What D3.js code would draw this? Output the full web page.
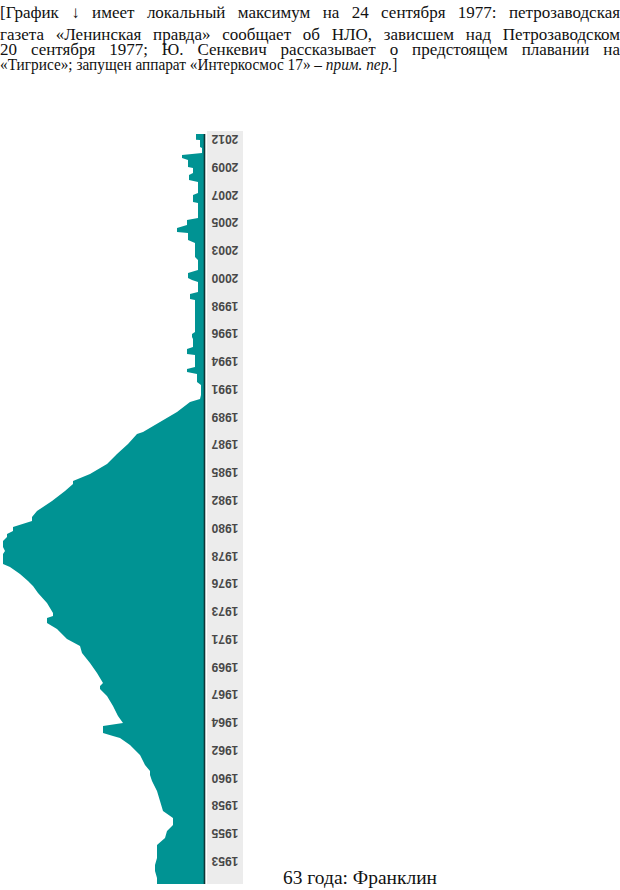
<!DOCTYPE html>
<html>
<head>
<meta charset="utf-8">
<script src="https://cdn.jsdelivr.net/npm/d3@7"></script>
<style>
  body { margin: 0; background: #fff; }
  #wrap { position: relative; width: 620px; height: 890px; overflow: hidden; }
  .ln {
    position: absolute; left: 0; width: 620px;
    font-family: "Liberation Serif", "DejaVu Serif", serif;
    font-size: 17px; line-height: 15px; color: #111;
    text-align: justify; text-align-last: justify;
  }
  .ln.last {
    text-align: left; text-align-last: left;
    transform: scaleX(0.9); transform-origin: 0 0;
  }
  svg { position: absolute; left: 0; top: 0; }
</style>
</head>
<body>
<div id="wrap"></div>
<script>
// header lines above the chart
const noteLines = [
  '[График ↓ имеет локальный максимум на 24 сентября 1977: петрозаводская',
  'газета «Ленинская правда» сообщает об НЛО, зависшем над Петрозаводском',
  '20 сентября 1977; Ю. Сенкевич рассказывает о предстоящем плавании на',
  '«Тигрисе»; запущен аппарат «Интеркосмос 17» – <i>прим. пер.</i>]'
]
const footText = '63 года: Франклин'

// series (year, relative value 0-100)
const years = [
  1951.12, 1951.61, 1952.18, 1952.67, 1953.25, 1953.82, 1954.31, 1954.88, 1955.45, 1955.94,
  1956.51, 1957.09, 1957.90, 1958.72, 1959.54, 1960.03, 1960.35, 1960.85, 1961.66, 1962.48,
  1963.05, 1963.21, 1963.46, 1964.03, 1964.28, 1964.85, 1965.67, 1966.48, 1967.06, 1967.30,
  1967.55, 1968.36, 1969.18, 1970.00, 1970.57, 1971.14, 1971.96, 1972.45, 1972.86, 1973.02,
  1973.27, 1974.08, 1974.90, 1975.47, 1975.88, 1976.45, 1977.03, 1977.27, 1978.09, 1978.33,
  1978.66, 1979.15, 1979.48, 1979.72, 1979.97, 1980.29, 1980.78, 1981.11, 1981.60, 1982.42,
  1983.24, 1983.81, 1984.05, 1984.63, 1985.44, 1986.26, 1987.08, 1987.89, 1988.06, 1988.87,
  1989.69, 1990.51, 1990.75, 1991.08, 1991.90, 1992.14, 1992.80, 1992.96, 1993.21, 1993.37,
  1994.35, 1994.43, 1994.84, 1995.00, 1995.66, 1995.82, 1996.07, 1996.23, 1998.84, 1998.93,
  1999.33, 1999.50, 2000.31, 2000.48, 2000.64, 2001.05, 2001.30, 2002.11, 2002.36, 2003.50,
  2003.75, 2004.32, 2004.40, 2004.73, 2004.97, 2005.38, 2005.54, 2006.77, 2006.85, 2007.42,
  2007.59, 2008.49, 2008.65, 2009.06, 2009.22, 2009.63, 2009.71, 2010.28, 2010.45, 2010.69,
  2010.86, 2011.26, 2011.35, 2011.92, 2011.93, 2012.41
]
const values = [
  23.5, 23.5, 24.5, 24.5, 23.5, 23.5, 23.5, 19.5, 18.5, 15.5,
  15.5, 20.5, 22, 23.5, 26, 27, 27, 29.5, 32, 37,
  42, 45.5, 50.5, 50.5, 40.5, 43, 45.5, 48.5, 52, 52,
  50.5, 53.5, 57, 61, 62, 68.5, 73.5, 78.5, 78.5, 75.5,
  75.5, 78.5, 83, 85.5, 88, 92, 97, 100.5, 100.5, 99.5,
  100.5, 100.5, 98.5, 98.5, 95.5, 95.5, 86, 86, 83.5, 76,
  69.5, 65.5, 65.5, 57, 48.5, 43.5, 38, 33.5, 30.5, 22,
  13.5, 7, 2, 1.5, 1.5, 3.5, 3.5, 8.5, 8.5, 4.5,
  4.5, 8.5, 8.5, 5.5, 5.5, 6, 6, 4.5, 4.5, 7,
  7, 3, 3, 6, 8, 8, 3, 3, 4.5, 4.5,
  8, 8, 13.5, 13.5, 8.5, 8.5, 3, 3, 5.5, 5.5,
  3, 3, 7.5, 7.5, 5.5, 5.5, 8, 8, 11, 11,
  1, 1, 2, 2, 4, 4
]

// tick labels (evenly spaced along the axis, rounded years)
const tickLabels = [
  1953, 1955, 1958, 1960, 1962, 1964, 1967, 1969, 1971, 1973, 1976, 1978, 1980, 1982,
  1985, 1987, 1989, 1991, 1994, 1996, 1998, 2000, 2003, 2005, 2007, 2009, 2012
]

const wrap = d3.select('#wrap')

const tops = [5, 27, 42, 57]
noteLines.forEach((t, i) => {
  wrap.append('div')
    .attr('class', 'ln' + (i === noteLines.length - 1 ? ' last' : ''))
    .style('top', tops[i] + 'px')
    .html(t)
})

const svg = wrap.append('svg')
  .attr('width', 620)
  .attr('height', 890)

const yearMin = tickLabels[0]
const yearMax = tickLabels[tickLabels.length - 1]
const y = d3.scaleLinear().domain([yearMin, yearMax]).range([861, 139])
const x = d3.scaleLinear().domain([0, 100]).range([204, 4])

const data = years.map((yr, i) => ({ year: yr, v: values[i] }))

// grey label strip
svg.append('rect')
  .attr('x', 207)
  .attr('y', 131)
  .attr('width', 36)
  .attr('height', 753)
  .attr('fill', '#ececec')

const area = d3.area()
  .y(d => y(d.year))
  .x0(x(0))
  .x1(d => x(d.v))

svg.append('path')
  .datum(data)
  .attr('d', area)
  .attr('fill', '#009393')

svg.append('line')
  .attr('x1', x(0) + 0.5)
  .attr('x2', x(0) + 0.5)
  .attr('y1', y(d3.min(years)))
  .attr('y2', y(d3.max(years)))
  .attr('stroke', '#0e3535')
  .attr('stroke-width', 1.6)

const step = (yearMax - yearMin) / (tickLabels.length - 1)
svg.append('g')
  .selectAll('text')
  .data(tickLabels)
  .join('text')
  .attr('transform', (d, i) => `translate(225,${y(yearMin + i * step)}) rotate(180)`)
  .attr('text-anchor', 'middle')
  .attr('dominant-baseline', 'central')
  .attr('font-family', '"Liberation Sans", Arial, sans-serif')
  .attr('font-weight', 'bold')
  .attr('font-size', 12)
  .attr('fill', '#484848')
  .text(d => d)

svg.append('text')
  .attr('x', 283)
  .attr('y', 884)
  .attr('font-family', '"Liberation Serif", "DejaVu Serif", serif')
  .attr('font-size', 18)
  .attr('textLength', 154)
  .attr('lengthAdjust', 'spacingAndGlyphs')
  .attr('fill', '#111')
  .text(footText)
</script>
</body>
</html>
